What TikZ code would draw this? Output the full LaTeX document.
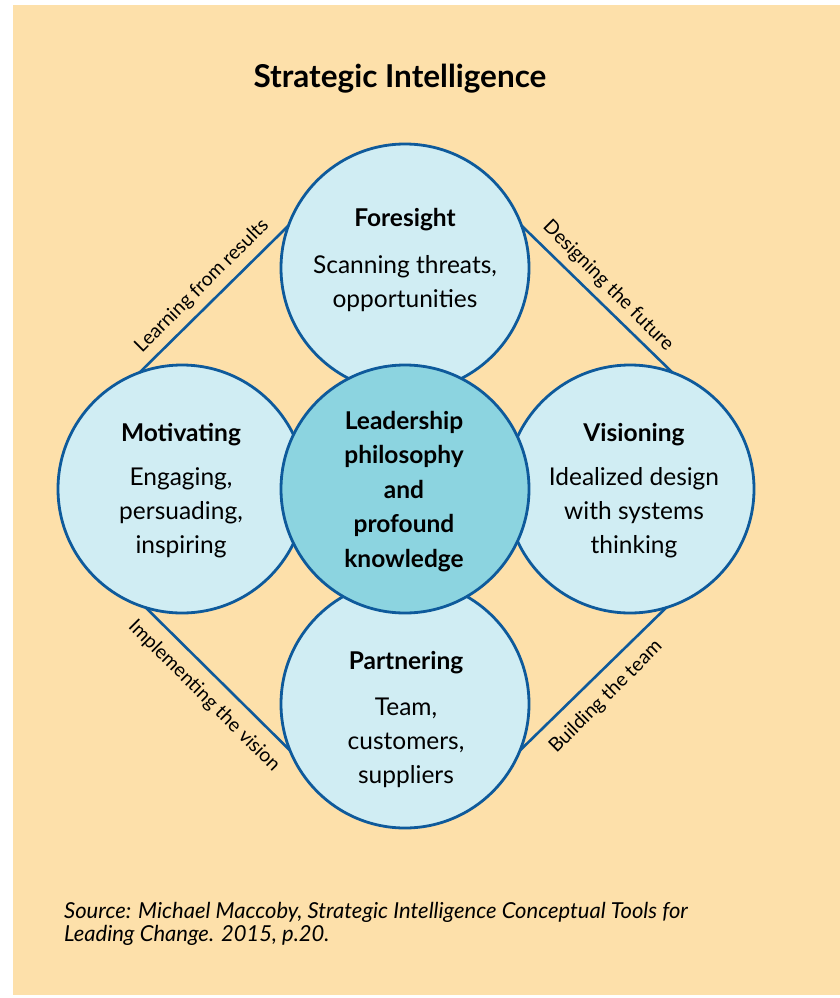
\documentclass[tikz,border=0pt]{standalone}
\usepackage{fontspec}
\setmainfont{Lato}
\definecolor{peach}{HTML}{FDE0AA}
\definecolor{lightc}{HTML}{D0EDF3}
\definecolor{darkc}{HTML}{8CD4E0}
\definecolor{rim}{HTML}{0E5A9B}
\begin{document}
\begin{tikzpicture}[x=1pt,y=-1pt,
  ring/.style={circle,draw=rim,line width=2.8pt,minimum size=248pt,inner sep=0pt,outer sep=0pt},
  outerring/.style={ring,fill=lightc},
  innerring/.style={ring,fill=darkc},
  link/.style={draw=rim,line width=2.6pt},
  blocktext/.style={align=center,anchor=base,inner sep=0pt,font=\fontsize{24.5}{34}\selectfont},
  centertext/.style={align=center,anchor=base,inner sep=0pt,font=\fontsize{24.5}{34.5}\selectfont\bfseries},
  linklabel/.style={inner sep=0pt,font=\fontsize{19.5}{22}\selectfont}
]
\useasboundingbox (0,0) rectangle (840,998);
\fill[white] (0,0) rectangle (840,998);
\fill[peach] (13,5) rectangle (840,995);

\node[font=\fontsize{31.5}{36}\selectfont\bfseries,anchor=base,inner sep=0pt] (title) at (400,88) {Strategic Intelligence};

\node[outerring] (top) at (405,268) {};
\node[outerring] (left) at (182,489) {};
\node[outerring] (right) at (630,489) {};
\node[outerring] (bottom) at (405,704) {};

\draw[link] (top.160) -- (left.110);
\draw[link] (top.20) -- (right.70);
\draw[link] (left.-107) -- (bottom.202);
\draw[link] (right.-73) -- (bottom.-22);

\node[innerring] (core) at (405,489) {};

\node[blocktext] (tforesight) at (405,307) {\textbf{Foresight}\\[13pt]Scanning threats,\\opportunities};
\node[blocktext] (tmotiv) at (181,553) {\textbf{Motivating}\\[10pt]Engaging,\\persuading,\\inspiring};
\node[blocktext] (tvision) at (634,553) {\textbf{Visioning}\\[10pt]Idealized design\\with systems\\thinking};
\node[blocktext] (tpartner) at (406,783) {\textbf{Partnering}\\[12pt]Team,\\customers,\\suppliers};
\node[centertext] (tcore) at (404,567) {Leadership\\philosophy\\and\\profound\\knowledge};

\node[linklabel,rotate=45] (l1) at (202,286) {Learning from results};
\node[linklabel,rotate=-45] (l2) at (608,286) {Designing the future};
\node[linklabel,rotate=-45] (l3) at (204,696) {Implementing the vision};
\node[linklabel,rotate=45] (l4) at (606,697) {Building the team};

\node[anchor=base west,align=left,inner sep=0pt,font=\fontsize{22}{23}\selectfont\itshape] (src) at (64,941) {Source: Michael Maccoby, Strategic Intelligence Conceptual Tools for\\Leading Change. 2015, p.20.};
\end{tikzpicture}
\end{document}
